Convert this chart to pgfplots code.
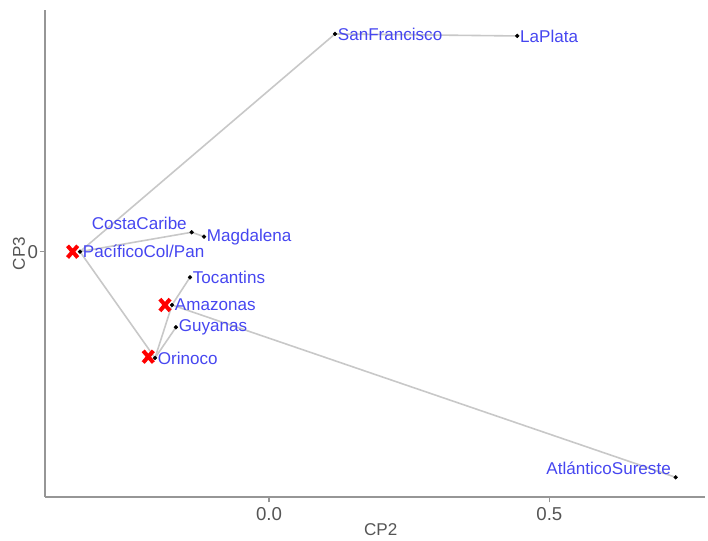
\documentclass[border=0pt]{standalone}
\usepackage{pgfplots}
\pgfplotsset{compat=1.18}
\usepackage{pgfplotstable}
\usepackage{fontspec}
\setmainfont{Liberation Sans}

\definecolor{lbl}{RGB}{70,70,240}
\definecolor{edge}{RGB}{200,200,200}
\definecolor{spine}{RGB}{150,150,150}
\definecolor{txt}{RGB}{85,85,85}

% CP2 CP3 scores of the basins, label to the right
\pgfplotstableread{
x y name
0.1177 0.3883 SanFrancisco
0.4428 0.3847 LaPlata
-0.1159 0.0268 Magdalena
-0.3371 0.0000 PacíficoCol/Pan
-0.1409 -0.0457 Tocantins
-0.1730 -0.0951 Amazonas
-0.1659 -0.1348 Guyanas
-0.2033 -0.1896 Orinoco
}\basinsR

% label above left
\pgfplotstableread{
x y name
-0.1379 0.0346 CostaCaribe
0.7253 -0.4024 AtlánticoSureste
}\basinsL

% red crosses
\pgfplotstableread{
x y
-0.3502 0.0000
-0.1855 -0.0951
-0.2153 -0.1873
}\centros

\begin{document}
\begin{tikzpicture}
\useasboundingbox (-33.75pt,-33pt) rectangle (497.25pt,372.75pt);
\begin{axis}[
  at={(0,0)}, anchor=south west,
  scale only axis, width=495pt, height=365.25pt,
  xmin=-0.3995, xmax=0.7776, ymin=-0.4375, ymax=0.431,
  axis x line*=bottom, axis y line*=left,
  axis line style={spine, line width=1.1pt},
  xtick={0,0.5}, xticklabels={0.0,0.5},
  ytick={0}, yticklabels={0},
  tick align=outside, major tick length=4pt,
  tick style={spine, line width=0.8pt},
  ticklabel style={font=\fontsize{14}{16}\selectfont, text=txt},
  yticklabel style={inner sep=1pt},
  xlabel=CP2, ylabel=CP3,
  every axis x label/.style={at={(axis description cs:0.5086,-0.0678)}, anchor=center, font=\fontsize{12.8}{15}\selectfont, text=txt},
  every axis y label/.style={at={(axis description cs:-0.0394,0.5)}, rotate=90, anchor=center, font=\fontsize{12.8}{15}\selectfont, text=txt},
  clip=false,
]
% tree edges
\addplot[edge, line width=1.2pt, forget plot] coordinates {(0.1177,0.3883) (0.4428,0.3847)};
\addplot[edge, line width=1.2pt, forget plot] coordinates {(0.1177,0.3883) (-0.3371,0.0000)};
\addplot[edge, line width=1.2pt, forget plot] coordinates {(-0.3371,0.0000) (-0.1379,0.0346)};
\addplot[edge, line width=1.2pt, forget plot] coordinates {(-0.1379,0.0346) (-0.1159,0.0268)};
\addplot[edge, line width=1.2pt, forget plot] coordinates {(-0.3371,0.0000) (-0.2033,-0.1896)};
\addplot[edge, line width=1.2pt, forget plot] coordinates {(-0.2033,-0.1896) (-0.1730,-0.0951)};
\addplot[edge, line width=1.2pt, forget plot] coordinates {(-0.2033,-0.1896) (-0.1659,-0.1348)};
\addplot[edge, line width=1.2pt, forget plot] coordinates {(-0.1730,-0.0951) (-0.1409,-0.0457)};
\addplot[edge, line width=1.2pt, forget plot] coordinates {(-0.1730,-0.0951) (0.7253,-0.4024)};
% crosses
\addplot[only marks, mark=x, mark size=5.4pt, mark options={red, line width=3pt, yscale=1.15}] table {\centros};
% points and labels
\addplot[only marks, mark=*, mark size=1.4pt, black,
  point meta=explicit symbolic, nodes near coords,
  every node near coord/.append style={anchor=west, inner sep=2pt, text=lbl, font=\fontsize{12.8}{15}\selectfont}]
  table[meta=name] {\basinsR};
\addplot[only marks, mark=*, mark size=1.4pt, black,
  point meta=explicit symbolic, nodes near coords,
  every node near coord/.append style={anchor=south east, inner sep=2pt, xshift=-1.5pt, text=lbl, font=\fontsize{12.8}{15}\selectfont}]
  table[meta=name] {\basinsL};
\end{axis}
\end{tikzpicture}
\end{document}
